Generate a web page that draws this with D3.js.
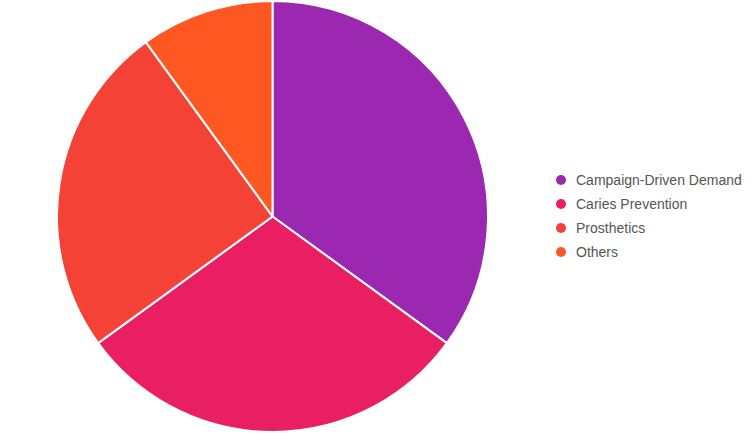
<!DOCTYPE html>
<html><head><meta charset="utf-8">
<script src="https://cdn.jsdelivr.net/npm/d3@7"></script>
<style>body{margin:0;background:#fff;}svg{display:block;}</style>
</head><body>
<svg id="chart" width="751" height="433"></svg>
<script>
const categories = ["Campaign-Driven Demand", "Caries Prevention", "Prosthetics", "Others"];
const values = [35, 30, 25, 10];
const colors = ["#9C27B0", "#E91E63", "#F44336", "#FF5722"];

const svg = d3.select("#chart");
const cx = 272.5, cy = 216.5, r = 215.5;
const pie = d3.pie().sort(null).value(d => d.v);
const arc = d3.arc().innerRadius(0).outerRadius(r);
const data = categories.map((c, i) => ({c, v: values[i], col: colors[i]}));
const g = svg.append("g").attr("transform", `translate(${cx},${cy})`);
g.selectAll("path").data(pie(data)).join("path")
  .attr("d", arc).attr("fill", d => d.data.col)
  .attr("stroke", "#fff").attr("stroke-width", 2).attr("stroke-linejoin", "round");

const leg = svg.append("g").attr("transform", "translate(561,180)");
const items = leg.selectAll("g").data(data).join("g")
  .attr("transform", (d, i) => `translate(0,${i * 24})`);
items.append("circle").attr("r", 5).attr("fill", d => d.col);
items.append("text").attr("x", 15).attr("dy", "0.33em")
  .attr("font-family", "Liberation Sans, Arial, sans-serif").attr("font-size", 14)
  .attr("fill", "#555").text(d => d.c);
</script>
</body></html>
